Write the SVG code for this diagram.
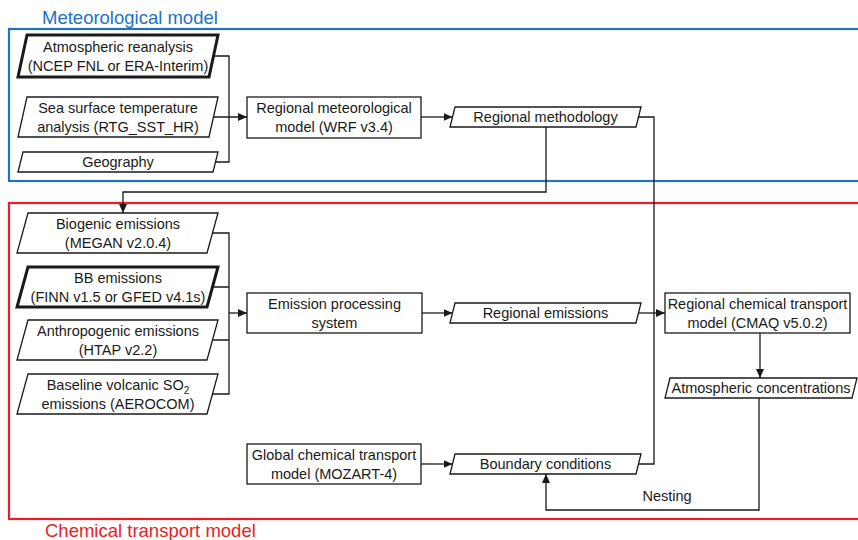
<svg xmlns="http://www.w3.org/2000/svg" width="858" height="540" viewBox="0 0 858 540">
<defs>
<marker id="ah" markerUnits="userSpaceOnUse" markerWidth="9" markerHeight="8" refX="9" refY="4" orient="auto">
<path d="M0,0 L9,4 L0,8 z" fill="#1a1a1a"/>
</marker>
<style>
text{font-family:"Liberation Sans",Arial,sans-serif;font-size:14.5px;fill:#1a1a1a;text-anchor:middle}
.shape{fill:#fff;stroke:#1a1a1a;stroke-width:1.3}
.thick{fill:#fff;stroke:#1a1a1a;stroke-width:3}
.con{fill:none;stroke:#1a1a1a;stroke-width:1.3}
.arr{fill:none;stroke:#1a1a1a;stroke-width:1.3;marker-end:url(#ah)}
.title{font-size:18.5px;text-anchor:start}
</style>
</defs>
<rect width="858" height="540" fill="#fff"/>
<g id="regions">
<rect x="9" y="29" width="860" height="152" fill="none" stroke="#2172C4" stroke-width="2.2"/>
<rect x="9" y="203" width="860" height="316" fill="none" stroke="#EE1C25" stroke-width="2.2"/>
<text class="title" x="42" y="24" style="fill:#2172C4">Meteorological model</text>
<text class="title" x="45" y="537" style="fill:#EE1C25">Chemical transport model</text>
</g>
<g id="connectors">
<path class="con" d="M213.5,56 H229 V162 H215.5"/>
<path class="arr" d="M213.5,117 H247"/>
<path class="arr" d="M421,117 H452.5"/>
<path class="con" d="M638.5,117 H654 V464 H638.5"/>
<path class="arr" d="M546,127 V192 H123 V213"/>
<path class="con" d="M212.5,233 H229 V394 H212.5 M212.5,287 H229 M212.5,340 H229"/>
<path class="arr" d="M229,313 H247"/>
<path class="arr" d="M422,313 H452.5"/>
<path class="arr" d="M638.5,313 H665"/>
<path class="arr" d="M760,333 V378"/>
<path class="arr" d="M421,464 H452.5"/>
<path class="arr" d="M759,398 V510 H546 V474"/>
<text x="667" y="501">Nesting</text>
</g>
<g id="atm-reanalysis">
<polygon class="thick" points="27,35 218,35 209,77 18,77"/>
<text x="118" y="51.5">Atmospheric reanalysis</text>
<text x="118" y="70.5">(NCEP FNL or ERA-Interim)</text>
</g>
<g id="sst">
<polygon class="shape" points="27,97 218,97 209,137 18,137"/>
<text x="118" y="112.5">Sea surface temperature</text>
<text x="118" y="131.5">analysis (RTG_SST_HR)</text>
</g>
<g id="geography">
<polygon class="shape" points="23,152 218,152 213,172 18,172"/>
<text x="118" y="167">Geography</text>
</g>
<g id="wrf">
<rect class="shape" x="247" y="97" width="174" height="41"/>
<text x="334" y="113">Regional meteorological</text>
<text x="334" y="132">model (WRF v3.4)</text>
</g>
<g id="reg-methodology">
<polygon class="shape" points="455,107 641,107 636,127 450,127"/>
<text x="545.5" y="122">Regional methodology</text>
</g>
<g id="biogenic">
<polygon class="shape" points="28,213 218,213 207,253 17,253"/>
<text x="118" y="228.5">Biogenic emissions</text>
<text x="118" y="247.5">(MEGAN v2.0.4)</text>
</g>
<g id="bb">
<polygon class="thick" points="28,267 218,267 207,307 17,307"/>
<text x="118" y="282.5">BB emissions</text>
<text x="118" y="301.5">(FINN v1.5 or GFED v4.1s)</text>
</g>
<g id="anthropogenic">
<polygon class="shape" points="28,320 218,320 207,360 17,360"/>
<text x="118" y="335.5">Anthropogenic emissions</text>
<text x="118" y="354.5">(HTAP v2.2)</text>
</g>
<g id="volcanic">
<polygon class="shape" points="28,374 218,374 207,414 17,414"/>
<text x="118" y="389.5">Baseline volcanic SO<tspan font-size="10" dy="4">2</tspan></text>
<text x="118" y="408.5">emissions (AEROCOM)</text>
</g>
<g id="emission-processing">
<rect class="shape" x="247" y="293" width="175" height="40"/>
<text x="334.5" y="308.5">Emission processing</text>
<text x="334.5" y="327.5">system</text>
</g>
<g id="reg-emissions">
<polygon class="shape" points="455,303 641,303 636,323 450,323"/>
<text x="545.5" y="318">Regional emissions</text>
</g>
<g id="cmaq">
<rect class="shape" x="665" y="293" width="185" height="40"/>
<text x="757.5" y="308.5">Regional chemical transport</text>
<text x="757.5" y="327.5">model (CMAQ v5.0.2)</text>
</g>
<g id="atm-conc">
<polygon class="shape" points="670,378 857,378 852,398 665,398"/>
<text x="761" y="393">Atmospheric concentrations</text>
</g>
<g id="mozart">
<rect class="shape" x="247" y="444" width="174" height="40"/>
<text x="334" y="459.5">Global chemical transport</text>
<text x="334" y="478.5">model (MOZART-4)</text>
</g>
<g id="boundary">
<polygon class="shape" points="455,454 641,454 636,474 450,474"/>
<text x="545.5" y="469">Boundary conditions</text>
</g>
</svg>
